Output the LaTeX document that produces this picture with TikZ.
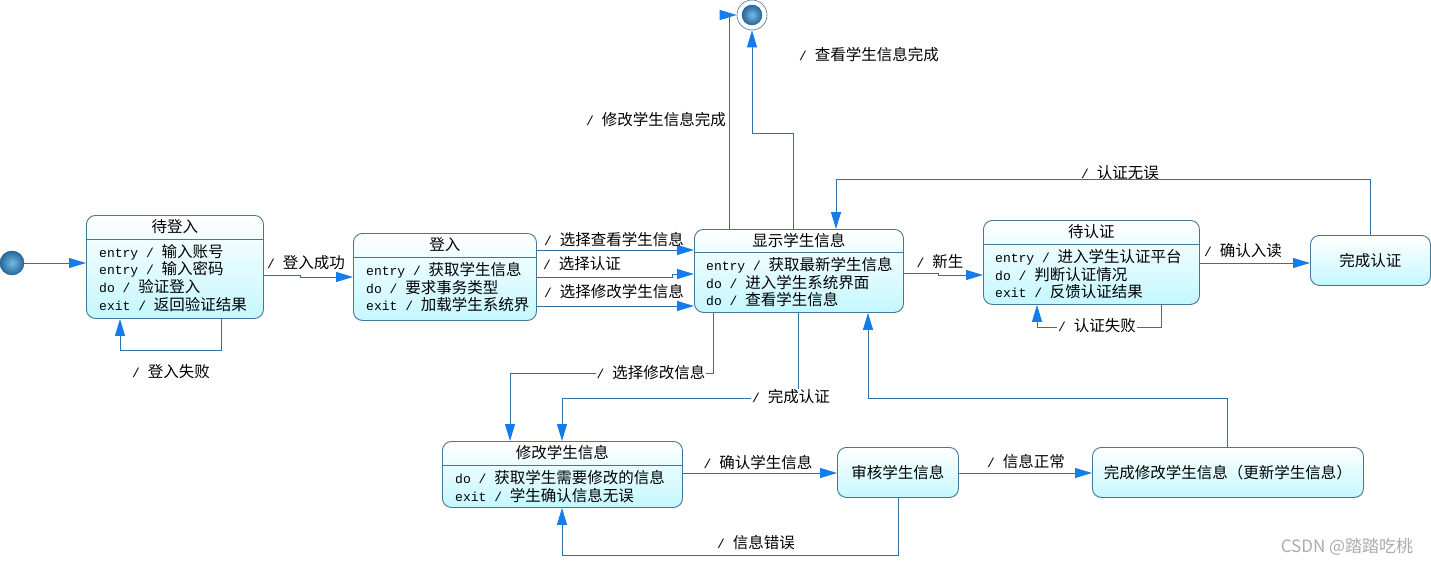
\documentclass[tikz,border=0pt]{standalone}
\usepackage{fontspec}
\setmainfont{Noto Sans CJK SC}
\newfontfamily\mono[Scale=0.84]{Liberation Mono}
\usetikzlibrary{arrows.meta}
\definecolor{lineC}{RGB}{46,112,168}
\definecolor{tipC}{RGB}{20,125,235}
\definecolor{bdC}{RGB}{70,118,150}
\definecolor{fillC}{RGB}{196,247,255}
\definecolor{ballIn}{RGB}{120,185,225}
\definecolor{ballOut}{RGB}{35,105,160}
\definecolor{ballE}{RGB}{40,90,130}
\newcommand\kw[1]{{\mono #1}}
\begin{document}
\begin{tikzpicture}[x=1pt,y=-1pt,
  every node/.style={font=\fontsize{15.5}{17.7}\selectfont, text=black},
  stbox/.style={draw=bdC, line width=0.9pt, rounded corners=9pt, top color=white, bottom color=fillC, anchor=north west, inner sep=0pt},
  body/.style={anchor=north west, align=left, inner sep=0pt},
  ttl/.style={inner sep=0pt},
  lbl/.style={inner sep=1pt},
  lblw/.style={inner sep=1pt, fill=white},
  divl/.style={draw=bdC, line width=0.9pt},
  ballst/.style={circle, inner sep=0pt, inner color=ballIn, outer color=ballOut},
  tr/.style={draw=lineC, line width=1pt, -{Triangle[length=17pt,width=10pt,color=tipC,fill=tipC]}}]
\fill[white] (0,0) rectangle (1431,564);
\useasboundingbox (0,0) rectangle (1431,564);

% initial and final
\node[ballst, minimum size=24pt, draw=ballE, line width=0.5pt] (init) at (12,263) {};
\node[circle, draw=bdC, line width=0.6pt, minimum size=30pt, inner sep=0pt, fill=white] (final) at (752,15) {};
\node[ballst, minimum size=20pt, draw=ballE, line width=0.4pt] (finalIn) at (final) {};

% 待登入
\node[stbox, minimum width=177pt, minimum height=103pt] (dl) at (86,215) {};
\node[ttl] (dlT) at ([yshift=-12pt]dl.north) {待登入};
\draw[divl] ([yshift=-24pt]dl.north west) -- ([yshift=-24pt]dl.north east);
\node[body] (dlB) at ([xshift=13pt,yshift=-29pt]dl.north west) {\kw{entry / }输入账号\\\kw{entry / }输入密码\\\kw{do / }验证登入\\\kw{exit / }返回验证结果};

% 登入
\node[stbox, minimum width=183pt, minimum height=87pt] (dn) at (353,233) {};
\node[ttl] (dnT) at ([yshift=-12pt]dn.north) {登入};
\draw[divl] ([yshift=-24pt]dn.north west) -- ([yshift=-24pt]dn.north east);
\node[body] (dnB) at ([xshift=13pt,yshift=-29pt]dn.north west) {\kw{entry / }获取学生信息\\\kw{do / }要求事务类型\\\kw{exit / }加载学生系统界};

% 显示学生信息
\node[stbox, minimum width=209pt, minimum height=83pt] (show) at (694,229) {};
\node[ttl] (showT) at ([yshift=-11.5pt]show.north) {显示学生信息};
\draw[divl] ([yshift=-23pt]show.north west) -- ([yshift=-23pt]show.north east);
\node[body] (showB) at ([xshift=12pt,yshift=-28pt]show.north west) {\kw{entry / }获取最新学生信息\\\kw{do / }进入学生系统界面\\\kw{do / }查看学生信息};

% 待认证
\node[stbox, minimum width=216pt, minimum height=84pt] (dai) at (983,220) {};
\node[ttl] (daiT) at ([yshift=-12pt]dai.north) {待认证};
\draw[divl] ([yshift=-24pt]dai.north west) -- ([yshift=-24pt]dai.north east);
\node[body] (daiB) at ([xshift=12pt,yshift=-29pt]dai.north west) {\kw{entry / }进入学生认证平台\\\kw{do / }判断认证情况\\\kw{exit / }反馈认证结果};

% 完成认证
\node[stbox, minimum width=120pt, minimum height=50pt] (done) at (1310,235) {完成认证};

% 修改学生信息
\node[stbox, minimum width=240pt, minimum height=66pt] (mod) at (442,441) {};
\node[ttl] (modT) at ([yshift=-12pt]mod.north) {修改学生信息};
\draw[divl] ([yshift=-24pt]mod.north west) -- ([yshift=-24pt]mod.north east);
\node[body] (modB) at ([xshift=13pt,yshift=-29pt]mod.north west) {\kw{do / }获取学生需要修改的信息\\\kw{exit / }学生确认信息无误};

% 审核学生信息
\node[stbox, minimum width=121pt, minimum height=50pt] (check) at (837,447) {审核学生信息};
% 完成修改学生信息
\node[stbox, minimum width=271pt, minimum height=50pt] (fin) at (1092,447) {完成修改学生信息（更新学生信息）};

% connectors
\draw[tr] (init.east) -- (init.east -| dl.west);
\draw[tr] (221,0 |- dl.south) -- (221,350) -| (120,0 |- dl.south);
\draw[tr] (dl.east |- 0,275) -- (300,275) -- (300,277) -- (dn.west |- 0,277);
\draw[tr] (dn.east |- 0,250) -- (show.west |- 0,250);
\draw[tr] (dn.east |- 0,277) -- (672,277) -- (672,274) -- (show.west |- 0,274);
\draw[tr] (dn.east |- 0,306) -- (show.west |- 0,306);
\draw[tr] (729,0 |- show.north) -- (729,0 |- final) -- (final.west);
\draw[tr] (793,0 |- show.north) -- (793,134) -| (final.south);
\draw[tr] (show.east |- 0,273) -- (938,273) -- (938,275) -- (dai.west |- 0,275);
\draw[tr] (dai.east |- 0,263) -- (done.west |- 0,263);
\draw[tr] (1370,0 |- done.north) -- (1370,180) -| (836,0 |- show.north);
\draw[tr] (1161,0 |- dai.south) -- (1161,327) -| (1037,0 |- dai.south);
\draw[tr] (713,0 |- show.south) -- (713,373) -| (510,0 |- mod.north);
\draw[tr] (798,0 |- show.south) -- (798,398) -| (562,0 |- mod.north);
\draw[tr] (1227,0 |- fin.north) -- (1227,398) -| (868,0 |- show.south);
\draw[tr] (mod.east |- 0,473) -- (check.west |- 0,473);
\draw[tr] (check.east |- 0,473) -- (fin.west |- 0,473);
\draw[tr] (898,0 |- check.south) -- (898,555) -| (562,0 |- mod.south);

% labels
\node[lbl] (l1) at (171,372) {\kw{/ }登入失败};
\node[lbl] (l2) at (306,263) {\kw{/ }登入成功};
\node[lbl] (l3) at (614,240) {\kw{/ }选择查看学生信息};
\node[lbl] (l4) at (582,264) {\kw{/ }选择认证};
\node[lbl] (l5) at (614,292) {\kw{/ }选择修改学生信息};
\node[lbl] (l6) at (656,120) {\kw{/ }修改学生信息完成};
\node[lbl] (l7) at (869,55) {\kw{/ }查看学生信息完成};
\node[lbl] (l8) at (940,262) {\kw{/ }新生};
\node[lbl] (l9) at (1243,251) {\kw{/ }确认入读};
\node[lbl] (l10) at (1120,173) {\kw{/ }认证无误};
\node[lblw] (l11) at (1097,326) {\kw{/ }认证失败};
\node[lblw] (l12) at (651,373) {\kw{/ }选择修改信息};
\node[lblw] (l13) at (791,397) {\kw{/ }完成认证};
\node[lbl] (l14) at (758,463) {\kw{/ }确认学生信息};
\node[lbl] (l15) at (1026,462) {\kw{/ }信息正常};
\node[lbl] (l16) at (756,543) {\kw{/ }信息错误};
\node[text=gray!65, font=\fontsize{17}{20}\selectfont, inner sep=0pt] (wm) at (1347,547) {CSDN @踏踏吃桃};
\end{tikzpicture}
\end{document}
